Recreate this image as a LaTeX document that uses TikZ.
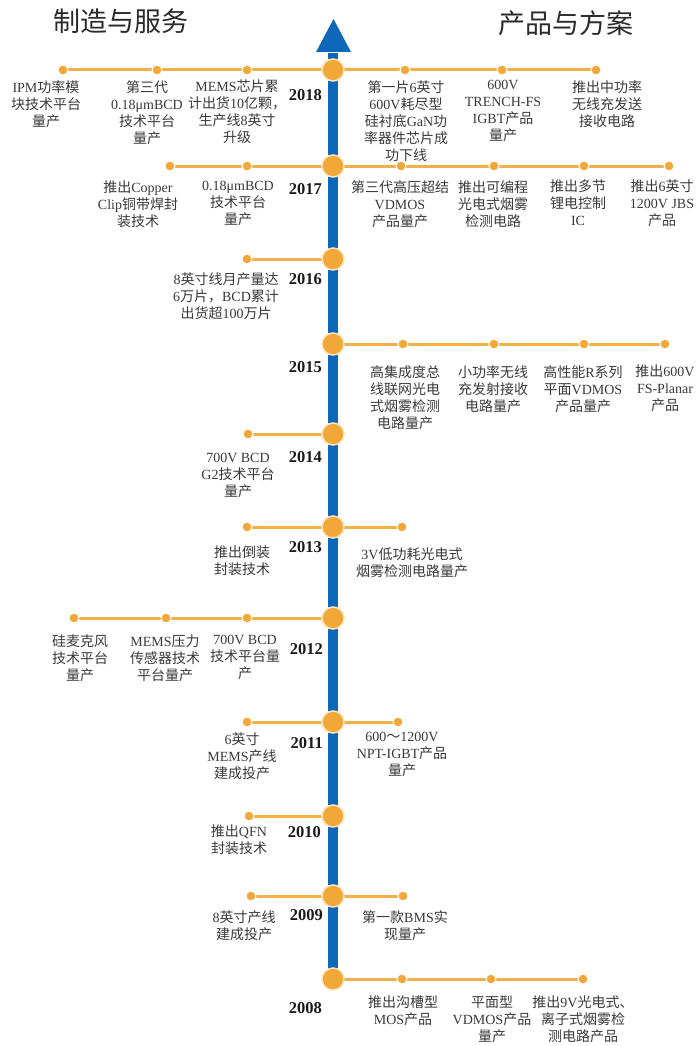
\documentclass[tikz,border=0pt]{standalone}
\usepackage{fontspec}
\setmainfont{Liberation Serif}
\newfontfamily\latinfont{Liberation Serif}
\newfontfamily\zhfont{Noto Sans CJK SC}
\usetikzlibrary{backgrounds}
\XeTeXinterchartokenstate=1
\newXeTeXintercharclass\zhclass
\count255="4E00
\loop\XeTeXcharclass\count255=\zhclass \advance\count255 by 1 \ifnum\count255<"A000 \repeat
\XeTeXcharclass"3001=\zhclass
\XeTeXcharclass"FF0C=\zhclass
\XeTeXcharclass"FF5E=\zhclass
\XeTeXinterchartoks 0 \zhclass = {\zhfont}
\XeTeXinterchartoks 4095 \zhclass = {\zhfont}
\XeTeXinterchartoks \zhclass 0 = {\latinfont}
\XeTeXinterchartoks 4095 0 = {\latinfont}
\definecolor{axisblue}{HTML}{0F67B9}
\definecolor{dotor}{HTML}{F2A838}
\definecolor{lineor}{HTML}{F3B04A}
\definecolor{hubring}{HTML}{FCE6C0}
\definecolor{txt}{HTML}{3A3A3A}
\definecolor{ttlc}{HTML}{2B2B2B}
\definecolor{yrc}{HTML}{1A1A1A}
\begin{document}
\begin{tikzpicture}[x=1pt,y=-1pt,
  dot/.style={circle,fill=dotor,draw=white,line width=1pt,minimum size=10pt,inner sep=0pt},
  hub/.style={circle,fill=dotor,draw=hubring,line width=1.5pt,minimum size=22pt,inner sep=0pt},
  link/.style={draw=lineor,line width=3pt},
  axisline/.style={draw=axisblue,line width=10pt},
  lbl/.style={text=txt,align=center,font=\fontsize{14}{17}\selectfont,inner sep=0pt,anchor=north,
    execute at begin node={\rule{0pt}{12pt}}},
  yr/.style={text=yrc,font=\fontsize{16.5}{18}\selectfont\bfseries,inner sep=0pt,anchor=east},
  ttl/.style={text=ttlc,font=\zhfont\fontsize{27}{30}\selectfont,inner sep=0pt}]
\useasboundingbox (0,0) rectangle (699,1046);

% titles
\node[ttl] (title1) at (121,21) {制造与服务};
\node[ttl] (title2) at (566,23) {产品与方案};

% hubs on the axis
\node[hub] (h18) at (333,70) {};
\node[hub] (h17) at (333,166) {};
\node[hub] (h16) at (333,259) {};
\node[hub] (h15) at (333,344) {};
\node[hub] (h14) at (333,434) {};
\node[hub] (h13) at (333,527) {};
\node[hub] (h12) at (333,618) {};
\node[hub] (h11) at (333,722) {};
\node[hub] (h10) at (333,816) {};
\node[hub] (h09) at (333,896) {};
\node[hub] (h08) at (333,979) {};
\coordinate (axtop) at (333,53);

% years
\node[yr] (y18) at (322,95) {2018};
\node[yr] (y17) at (322,189) {2017};
\node[yr] (y16) at (322,279) {2016};
\node[yr] (y15) at (322,367) {2015};
\node[yr] (y14) at (322,457) {2014};
\node[yr] (y13) at (322,547) {2013};
\node[yr] (y12) at (323,649) {2012};
\node[yr] (y11) at (323,743) {2011};
\node[yr] (y10) at (321,832) {2010};
\node[yr] (y09) at (323,915) {2009};
\node[yr] (y08) at (322,1008) {2008};

% dots
\node[dot] (d18a) at (63,70) {};
\node[dot] (d18b) at (157,70) {};
\node[dot] (d18c) at (247,70) {};
\node[dot] (d18d) at (405,70) {};
\node[dot] (d18e) at (502,70) {};
\node[dot] (d18f) at (596,70) {};
\node[dot] (d17a) at (170,166) {};
\node[dot] (d17b) at (247,166) {};
\node[dot] (d17c) at (401,166) {};
\node[dot] (d17d) at (494,166) {};
\node[dot] (d17e) at (584,166) {};
\node[dot] (d17f) at (669,166) {};
\node[dot] (d16a) at (247,259) {};
\node[dot] (d15a) at (403,344) {};
\node[dot] (d15b) at (494,344) {};
\node[dot] (d15c) at (584,344) {};
\node[dot] (d15d) at (665,344) {};
\node[dot] (d14a) at (248,434) {};
\node[dot] (d13a) at (247,527) {};
\node[dot] (d13b) at (402,527) {};
\node[dot] (d12a) at (74,618) {};
\node[dot] (d12b) at (166,618) {};
\node[dot] (d12c) at (247,618) {};
\node[dot] (d11a) at (247,722) {};
\node[dot] (d11b) at (398,722) {};
\node[dot] (d10a) at (249,816) {};
\node[dot] (d09a) at (251,896) {};
\node[dot] (d09b) at (403,896) {};
\node[dot] (d08a) at (402,979) {};
\node[dot] (d08b) at (491,979) {};
\node[dot] (d08c) at (583,979) {};

% connectors (behind)
\begin{scope}[on background layer]
\fill[white] (0,0) rectangle (699,1046);
\draw[axisline] (h08.center) -- (axtop);
\fill[axisblue] (316,52) -- (351,52) -- (333.5,19) -- cycle;
\draw[link] (d18a.center) -- (h18.center) -- (d18f.center);
\draw[link] (d17a.center) -- (h17.center) -- (d17f.center);
\draw[link] (d16a.center) -- (h16.center);
\draw[link] (h15.center) -- (d15d.center);
\draw[link] (d14a.center) -- (h14.center);
\draw[link] (d13a.center) -- (h13.center) -- (d13b.center);
\draw[link] (d12a.center) -- (h12.center);
\draw[link] (d11a.center) -- (h11.center) -- (d11b.center);
\draw[link] (d10a.center) -- (h10.center);
\draw[link] (d09a.center) -- (h09.center) -- (d09b.center);
\draw[link] (h08.center) -- (d08c.center);
\end{scope}

% labels
\node[lbl] (t18a) at (46,80) {IPM功率模\\块技术平台\\量产};
\node[lbl] (t18b) at (147,80) {第三代\\0.18μmBCD\\技术平台\\量产};
\node[lbl] (t18c) at (237,80) {MEMS芯片累\\计出货10亿颗，\\生产线8英寸\\升级};
\node[lbl] (t18d) at (406,80) {第一片6英寸\\600V耗尽型\\硅衬底GaN功\\率器件芯片成\\功下线};
\node[lbl] (t18e) at (503,80) {600V\\TRENCH-FS\\IGBT产品\\量产};
\node[lbl] (t18f) at (607,80) {推出中功率\\无线充发送\\接收电路};

\node[lbl] (t17a) at (138,181) {推出Copper\\Clip铜带焊封\\装技术};
\node[lbl] (t17b) at (238,181) {0.18μmBCD\\技术平台\\量产};
\node[lbl] (t17c) at (400,180) {第三代高压超结\\VDMOS\\产品量产};
\node[lbl] (t17d) at (493,180) {推出可编程\\光电式烟雾\\检测电路};
\node[lbl] (t17e) at (578,180) {推出多节\\锂电控制\\IC};
\node[lbl] (t17f) at (662,180) {推出6英寸\\1200V JBS\\产品};

\node[lbl] (t16a) at (226,273) {8英寸线月产量达\\6万片，BCD累计\\出货超100万片};

\node[lbl] (t15a) at (405,365) {高集成度总\\线联网光电\\式烟雾检测\\电路量产};
\node[lbl] (t15b) at (493,365) {小功率无线\\充发射接收\\电路量产};
\node[lbl] (t15c) at (583,365) {高性能R系列\\平面VDMOS\\产品量产};
\node[lbl] (t15d) at (665,365) {推出600V\\FS-Planar\\产品};

\node[lbl] (t14a) at (238,453) {700V BCD\\G2技术平台\\量产};

\node[lbl] (t13a) at (242,546) {推出倒装\\封装技术};
\node[lbl] (t13b) at (412,548) {3V低功耗光电式\\烟雾检测电路量产};

\node[lbl] (t12a) at (80,635) {硅麦克风\\技术平台\\量产};
\node[lbl] (t12b) at (165,635) {MEMS压力\\传感器技术\\平台量产};
\node[lbl] (t12c) at (245,635) {700V BCD\\技术平台量\\产};

\node[lbl] (t11a) at (242,733) {6英寸\\MEMS产线\\建成投产};
\node[lbl] (t11b) at (402,732) {600～1200V\\NPT-IGBT产品\\量产};

\node[lbl] (t10a) at (239,825) {推出QFN\\封装技术};

\node[lbl] (t09a) at (244,910) {8英寸产线\\建成投产};
\node[lbl] (t09b) at (405,910) {第一款BMS实\\现量产};

\node[lbl] (t08a) at (403,996) {推出沟槽型\\MOS产品};
\node[lbl] (t08b) at (492,996) {平面型\\VDMOS产品\\量产};
\node[lbl] (t08c) at (583,996) {推出9V光电式、\\离子式烟雾检\\测电路产品};
\end{tikzpicture}
\end{document}
